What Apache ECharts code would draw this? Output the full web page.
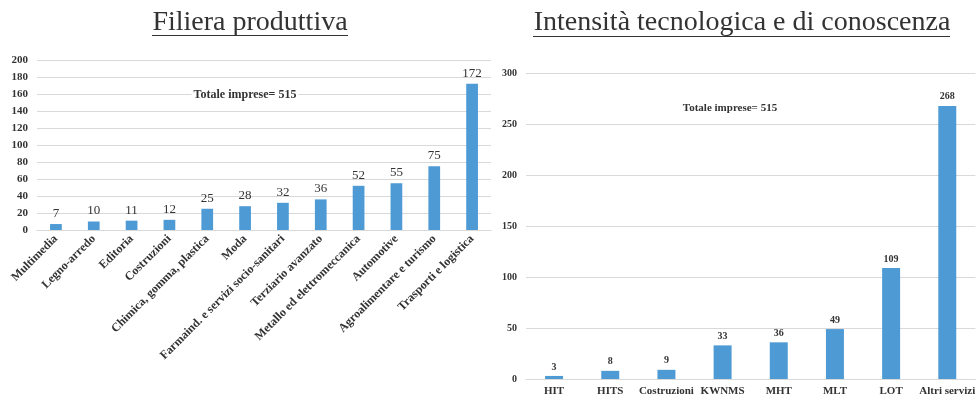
<!DOCTYPE html>
<html><head><meta charset="utf-8">
<script src="https://cdn.jsdelivr.net/npm/echarts@6/dist/echarts.min.js"></script>
<style>html,body{margin:0;padding:0;background:#fff}#c{width:978px;height:397px}</style>
</head><body><div id="c"></div>
<script>
var filieraCategories = ['Multimedia','Legno-arredo','Editoria','Costruzioni','Chimica, gomma, plastica','Moda','Farmaind. e servizi socio-sanitari','Terziario avanzato','Metallo ed elettromeccanica','Automotive','Agroalimentare e turismo','Trasporti e logistica'];
var filieraValues = [7,10,11,12,25,28,32,36,52,55,75,172];
var intensitaCategories = ['HIT','HITS','Costruzioni','KWNMS','MHT','MLT','LOT','Altri servizi'];
var intensitaValues = [3,8,9,33,36,49,109,268];
var leftTitle = 'Filiera produttiva';
var rightTitle = 'Intensità tecnologica e di conoscenza';
var totalNote = 'Totale imprese= 515';

var serif = '"Liberation Serif", "DejaVu Serif", serif';
var txt = '#333333';
var barColor = '#4d9ad5';
var chart = echarts.init(document.getElementById('c'), null, {renderer:'canvas'});
chart.setOption({
  animation:false,
  backgroundColor:'#fff',
  title:[
    {text:leftTitle, left:245, top:4, textAlign:'center', textStyle:{fontFamily:serif, fontSize:28, fontWeight:'normal', color:txt}},
    {text:rightTitle, left:737, top:4, textAlign:'center', textStyle:{fontFamily:serif, fontSize:28, fontWeight:'normal', color:txt}}
  ],
  graphic:[
    {type:'line', shape:{x1:152,y1:35.5,x2:348,y2:35.5}, style:{stroke:txt, lineWidth:1}},
    {type:'line', shape:{x1:533,y1:36.5,x2:950,y2:36.5}, style:{stroke:txt, lineWidth:1}},
    {type:'text', x:245, y:95, z:100, style:{text:totalNote, fill:txt, font:'bold 12px '+serif, align:'center', verticalAlign:'middle', backgroundColor:'#fff', padding:[1,2]}},
    {type:'text', x:730, y:108, z:100, style:{text:totalNote, fill:txt, font:'bold 11px '+serif, align:'center', verticalAlign:'middle'}}
  ],
  grid:[
    {left:37, top:60, width:454, height:170, containLabel:false},
    {left:526, top:73.3, width:453, height:306.7, containLabel:false}
  ],
  xAxis:[
    {type:'category', gridIndex:0, data:filieraCategories, axisTick:{show:false}, axisLine:{show:true, lineStyle:{color:'#d9d9d9'}},
     axisLabel:{rotate:45, interval:0, margin:7, fontFamily:serif, fontSize:12, fontWeight:'bold', color:txt}},
    {type:'category', gridIndex:1, data:intensitaCategories, axisTick:{show:false}, axisLine:{show:true, lineStyle:{color:'#d9d9d9'}},
     axisLabel:{interval:0, margin:7, fontFamily:serif, fontSize:11, fontWeight:'bold', color:txt}}
  ],
  yAxis:[
    {type:'value', gridIndex:0, min:0, max:200, interval:20, axisLine:{show:false}, axisTick:{show:false},
     splitLine:{lineStyle:{color:'#d9d9d9'}}, axisLabel:{margin:9, fontFamily:serif, fontSize:11, fontWeight:'bold', color:txt}},
    {type:'value', gridIndex:1, min:0, max:300, interval:50, axisLine:{show:false}, axisTick:{show:false},
     splitLine:{lineStyle:{color:'#d9d9d9'}}, axisLabel:{margin:9, fontFamily:serif, fontSize:10, fontWeight:'bold', color:txt}}
  ],
  series:[
    {type:'bar', xAxisIndex:0, yAxisIndex:0, data:filieraValues, barWidth:'31%', itemStyle:{color:barColor},
     label:{show:true, position:'top', distance:4, fontFamily:serif, fontSize:13, color:txt}},
    {type:'bar', xAxisIndex:1, yAxisIndex:1, data:intensitaValues, barWidth:'32%', itemStyle:{color:barColor},
     label:{show:true, position:'top', distance:4, fontFamily:serif, fontSize:10, fontWeight:'bold', color:txt}}
  ]
});
</script></body></html>
